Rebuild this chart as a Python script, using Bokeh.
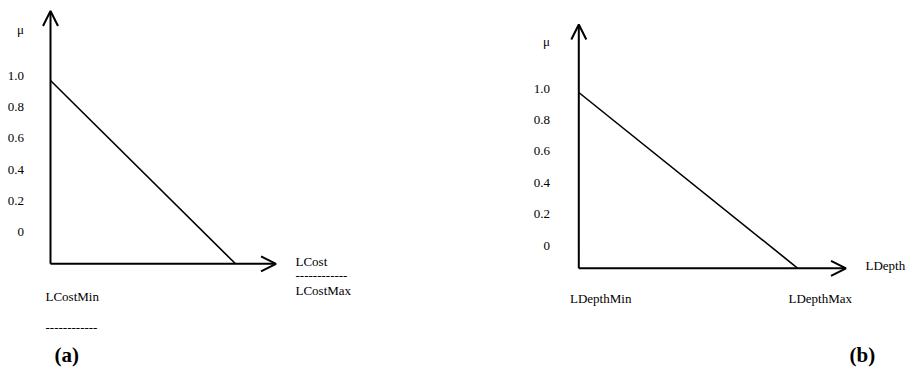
from bokeh.plotting import figure
from bokeh.models import Range1d, Arrow, OpenHead
from bokeh.core.properties import value
from bokeh.embed import file_html
from bokeh.resources import INLINE

# ---------------- data ----------------
# membership functions (normalised: Min -> 0, Max -> 1)
cost_x = [0.0, 1.0]
cost_mu = [1.0, 0.0]
depth_x = [0.0, 1.0]
depth_mu = [1.0, 0.0]
mu_tick_labels = ["1.0", "0.8", "0.6", "0.4", "0.2", "0"]
axis_name = "\u03bc"
cost_labels = ["LCost", "LCostMin", "LCostMax"]
depth_labels = ["LDepth", "LDepthMin", "LDepthMax"]
panel_titles = ["(a)", "(b)"]

# ---------------- layout (page pixels) ----------------
W, H = 905, 367
M = 0  # the canvas is placed at the page's top-left corner
FONT = value("Liberation Serif")

# panel A : origin and unit length in pixels
A = dict(ox=50.0, oy=263.3, ux=185.0, uy=183.3)
# panel B
B = dict(ox=578.3, oy=267.8, ux=219.0, uy=175.8)


def ranges(P):
    fx0 = P["ox"] - M
    fy0 = P["oy"] - M
    xs = -fx0 / P["ux"]
    xe = (W - fx0) / P["ux"]
    yt = fy0 / P["uy"]
    yb = (fy0 - H) / P["uy"]
    return Range1d(xs, xe), Range1d(yb, yt)


def to_data(P, px, py):
    return (px - P["ox"]) / P["ux"], (P["oy"] - py) / P["uy"]


ax_r, ay_r = ranges(A)
bx_r, by_r = ranges(B)

p = figure(width=W, height=H, x_range=ax_r, y_range=ay_r,
           output_backend="svg", toolbar_location=None,
           min_border=0, min_border_left=0, min_border_right=0,
           min_border_top=0, min_border_bottom=0)
p.extra_x_ranges = {"bx": bx_r}
p.extra_y_ranges = {"by": by_r}
p.xaxis.visible = False
p.yaxis.visible = False
p.grid.visible = False
p.outline_line_color = None
p.background_fill_color = "white"
p.border_fill_color = "white"


def rn(P):
    return {} if P is A else dict(x_range_name="bx", y_range_name="by")


def text(P, px, py, s, align="left", size="13px", style="normal",
         baseline="alphabetic"):
    x, y = to_data(P, px, py)
    p.text(x=[x], y=[y], text=[s], text_font=FONT, text_font_size=size,
           text_font_style=style, text_align=align,
           text_baseline=baseline, text_color="black", **rn(P))


def panel(P, xs, mus, ytip_px, xtip_px, mu_px, tick_x, tick_b0, tick_step):
    # axes with open arrow heads
    _, ytip = to_data(P, 0, ytip_px)
    xtip, _ = to_data(P, xtip_px, 0)
    p.add_layout(Arrow(x_start=0, y_start=0, x_end=0, y_end=ytip,
                       line_width=2, line_color="black",
                       end=OpenHead(size=15, line_width=2, line_color="black"),
                       **rn(P)))
    p.add_layout(Arrow(x_start=0, y_start=0, x_end=xtip, y_end=0,
                       line_width=2, line_color="black",
                       end=OpenHead(size=15, line_width=2, line_color="black"),
                       **rn(P)))
    # membership line
    p.line(xs, mus, line_width=1.6, line_color="black", **rn(P))
    # mu label and tick labels
    text(P, tick_x, mu_px, axis_name, align="right")
    for i, lab in enumerate(mu_tick_labels):
        text(P, tick_x, tick_b0 + i * tick_step, lab, align="right")


panel(A, cost_x, cost_mu, 10.5, 275.5, 28.5, 23.5, 75.0, 31.34)
panel(B, depth_x, depth_mu, 24.0, 845.5, 41.0, 549.5, 88.3, 31.34)

dashes = "-" * 12
# panel A labels
text(A, 295, 261, cost_labels[0])
text(A, 295, 275, dashes)
text(A, 295, 290, cost_labels[2])
text(A, 45, 296, cost_labels[1])
text(A, 45, 327, dashes)
text(A, 54, 354.5, panel_titles[0], size="21px", style="bold",
     baseline="middle")

# panel B labels
text(B, 865, 265, depth_labels[0])
text(B, 569.5, 298, depth_labels[1])
text(B, 788, 298, depth_labels[2])
text(B, 849, 354.5, panel_titles[1], size="21px", style="bold",
     baseline="middle")

open("out.html", "w").write(file_html(p, INLINE))
